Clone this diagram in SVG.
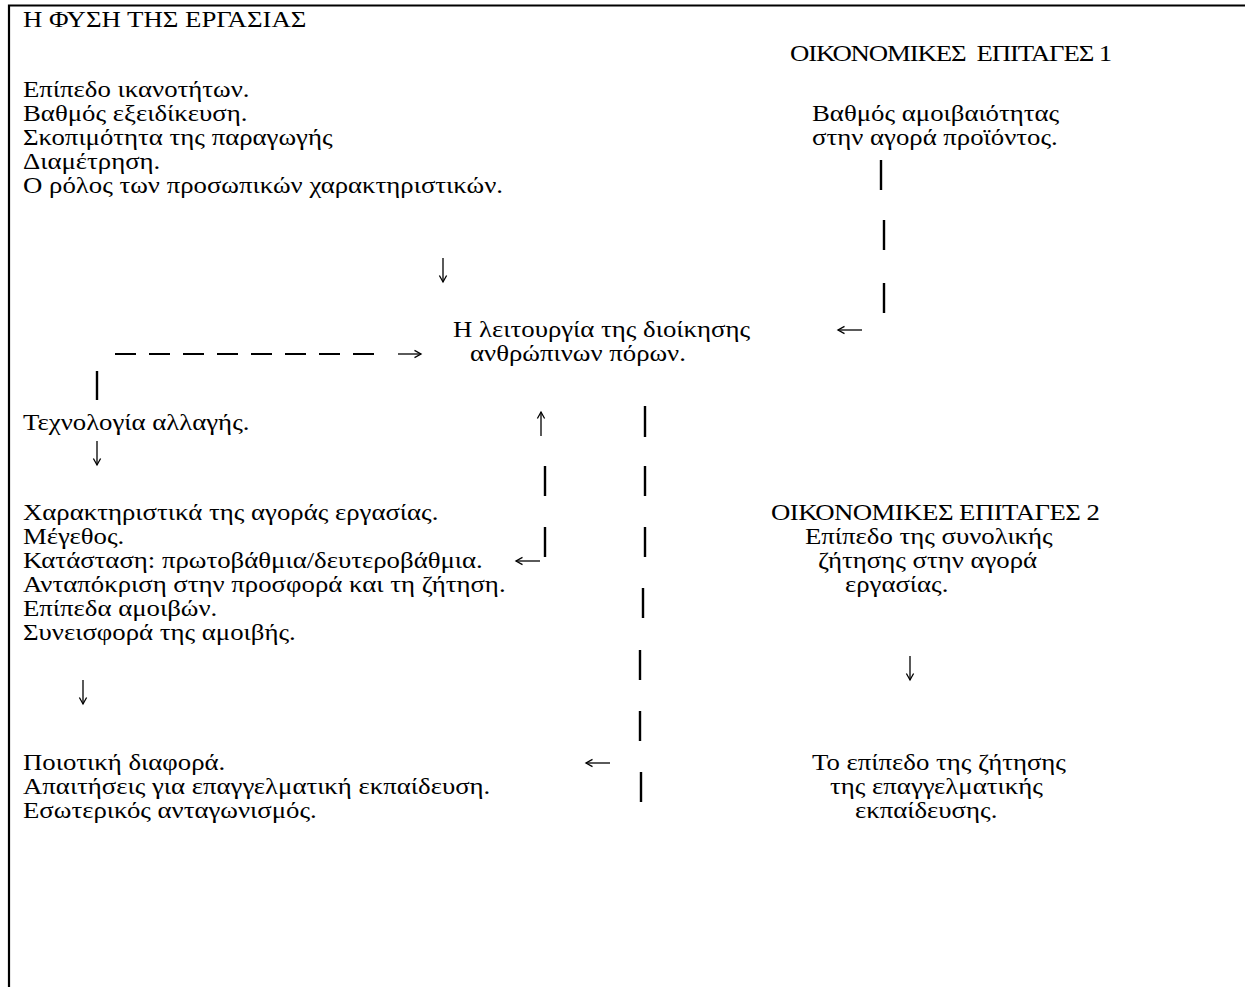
<svg xmlns="http://www.w3.org/2000/svg" width="1245" height="987" viewBox="0 0 1245 987">
<style>
text{font-family:"Liberation Serif","Times New Roman",serif;font-size:23.5px;fill:#000}
.bar{stroke:#000;stroke-width:2.4;fill:none}
.dash{stroke:#000;stroke-width:2.2;stroke-dasharray:21 13;fill:none}
.frame{stroke:#000;stroke-width:2.2;fill:none}
.arr{stroke:#000;stroke-width:1.3;fill:none;marker-end:url(#head)}
</style>
<defs>
<marker id="head" viewBox="-8 -5 10 10" refX="0" refY="0" markerWidth="10" markerHeight="10" markerUnits="userSpaceOnUse" orient="auto">
<path d="M-6.5,-3.6 L0,0 L-6.5,3.6" fill="none" stroke="#000" stroke-width="1.3"/>
</marker>
</defs>
<rect width="1245" height="987" fill="#fff"/>
<g id="frame"><path class="frame" d="M9,987 V5.5 H1245"/></g>
<g transform="scale(1.14,1)">
<g id="nature-of-work">
<text x="20.18" y="27">Η ΦΥΣΗ ΤΗΣ ΕΡΓΑΣΙΑΣ</text>
<text x="20.18" y="97">Επίπεδο ικανοτήτων.</text>
<text x="20.18" y="121">Βαθμός εξειδίκευση.</text>
<text x="20.18" y="145">Σκοπιμότητα της παραγωγής</text>
<text x="20.18" y="169">Διαμέτρηση.</text>
<text x="20.18" y="193">Ο ρόλος των προσωπικών χαρακτηριστικών.</text>
</g>
<g id="economic-1">
<text x="693" y="61" xml:space="preserve" textLength="282.5">ΟΙΚΟΝΟΜΙΚΕΣ  ΕΠΙΤΑΓΕΣ 1</text>
<text x="712.3" y="121">Βαθμός αμοιβαιότητας</text>
<text x="712.3" y="145">στην αγορά προϊόντος.</text>
</g>
<g id="hrm">
<text x="397.4" y="337">Η λειτουργία της διοίκησης</text>
<text x="412.3" y="361">ανθρώπινων πόρων.</text>
</g>
<g id="technology">
<text x="20.18" y="430">Τεχνολογία αλλαγής.</text>
</g>
<g id="labour-market">
<text x="20.18" y="520">Χαρακτηριστικά της αγοράς εργασίας.</text>
<text x="20.18" y="544">Μέγεθος.</text>
<text x="20.18" y="568">Κατάσταση: πρωτοβάθμια/δευτεροβάθμια.</text>
<text x="20.18" y="592">Ανταπόκριση στην προσφορά και τη ζήτηση.</text>
<text x="20.18" y="616">Επίπεδα αμοιβών.</text>
<text x="20.18" y="640">Συνεισφορά της αμοιβής.</text>
</g>
<g id="quality">
<text x="20.18" y="770">Ποιοτική διαφορά.</text>
<text x="20.18" y="794">Απαιτήσεις για επαγγελματική εκπαίδευση.</text>
<text x="20.18" y="818">Εσωτερικός ανταγωνισμός.</text>
</g>
<g id="economic-2">
<text x="676.3" y="520" textLength="288.6">ΟΙΚΟΝΟΜΙΚΕΣ ΕΠΙΤΑΓΕΣ 2</text>
<text x="706.1" y="544">Επίπεδο της συνολικής</text>
<text x="717.5" y="568">ζήτησης στην αγορά</text>
<text x="741.2" y="592">εργασίας.</text>
</g>
<g id="vocational-demand">
<text x="712.3" y="770">Το επίπεδο της ζήτησης</text>
<text x="728.1" y="794">της επαγγελματικής</text>
<text x="750" y="818">εκπαίδευσης.</text>
</g>
</g>
<g id="connectors">
<path class="dash" d="M115,354 H385"/>
<path class="bar" d="M97,371 V400"/>
<path class="bar" d="M881,160 V190 M884,220 V250 M884,283 V313"/>
<path class="bar" d="M545,466 V496 M545,527 V557"/>
<path class="bar" d="M645,406 V437 M645,466 V496 M645,527 V557 M643,588 V618 M640,650 V680 M640,711 V741 M641,772 V802"/>
<path class="arr" d="M443,258 V282"/>
<path class="arr" d="M862,330 H838"/>
<path class="arr" d="M398,354 H421"/>
<path class="arr" d="M541,436 V412"/>
<path class="arr" d="M97,441 V465"/>
<path class="arr" d="M540,561 H516"/>
<path class="arr" d="M910,656 V680"/>
<path class="arr" d="M83,680 V704"/>
<path class="arr" d="M610,763 H586"/>
</g>
</svg>
